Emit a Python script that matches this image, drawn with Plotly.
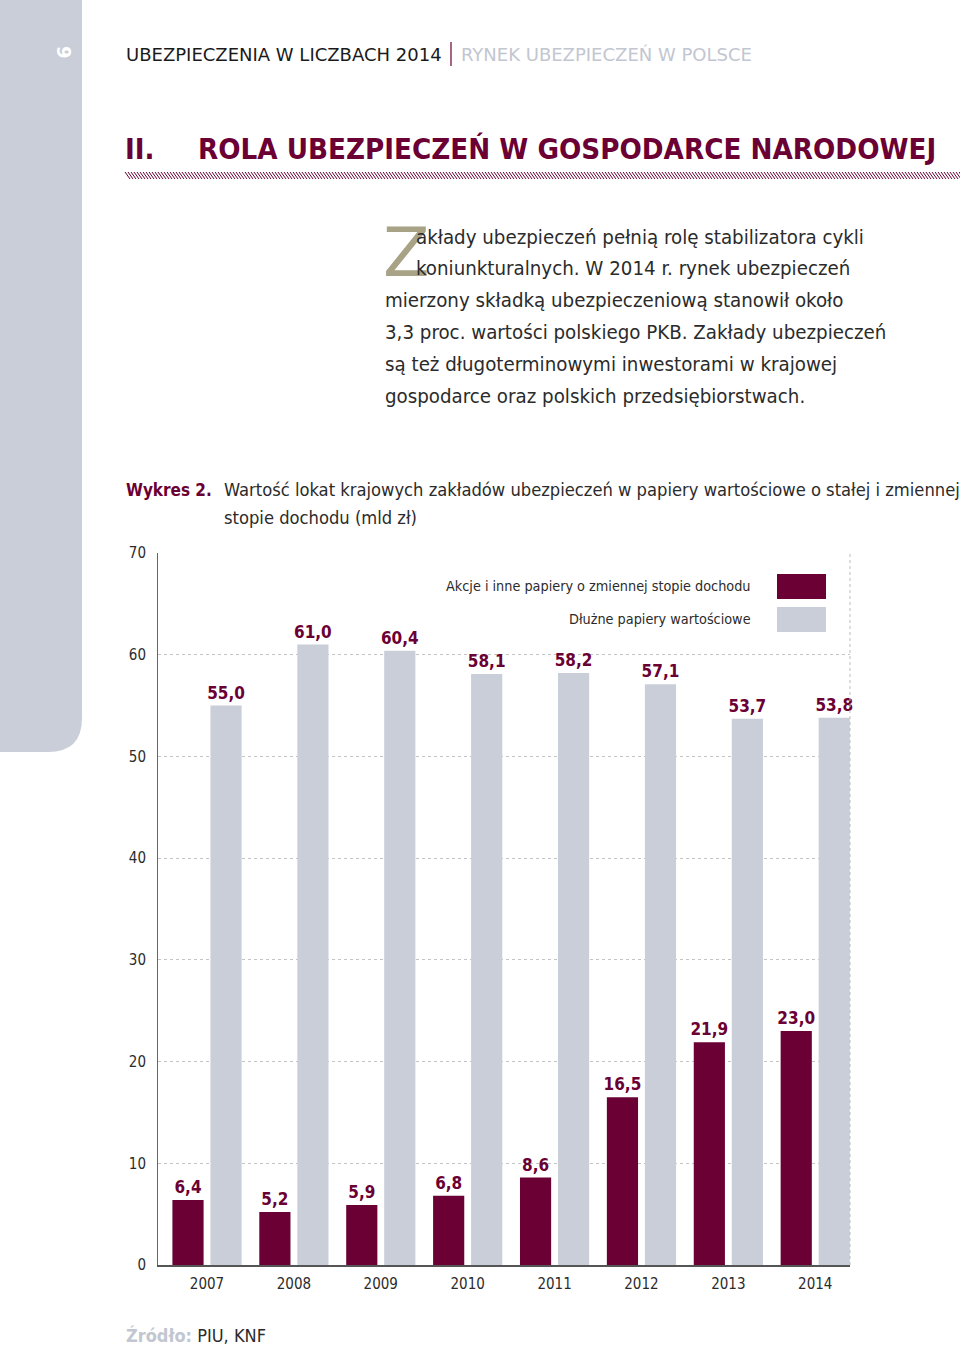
import plotly.graph_objects as go

# ----------------------------------------
# data
# ----------------------------------------
years = ["2007", "2008", "2009", "2010", "2011", "2012", "2013", "2014"]
akcje = [6.4, 5.2, 5.9, 6.8, 8.6, 16.5, 21.9, 23.0]      # zmienny dochód
dluzne = [55.0, 61.0, 60.4, 58.1, 58.2, 57.1, 53.7, 53.8]  # stały dochód
y_ticks = [0, 10, 20, 30, 40, 50, 60, 70]

MAROON = "#6a0033"
GREY_BAR = "#c9ced9"
TXT = "#2b2b2b"
FONT = "DejaVu Sans Condensed"

W, H = 960, 1348
# plot area in pixels
X0, X1, Y0, Y1 = 158, 850, 553, 1265


def px(x):
    return (x - X0) / (X1 - X0)


def py(y):
    return (Y1 - y) / (Y1 - Y0)


def fmt(v):
    return f"{v:.1f}".replace(".", ",")


def note(x, y, text, size, color=TXT, family=FONT, anchor="left", **kw):
    d = dict(x=px(x), y=py(y), xref="paper", yref="paper", xanchor=anchor,
             yanchor="middle", showarrow=False, text=text,
             font=dict(family=family, size=size, color=color))
    d.update(kw)
    return d


fig = go.Figure()
fig.add_trace(go.Bar(
    x=years, y=akcje, name="Akcje i inne papiery o zmiennej stopie dochodu",
    marker=dict(color=MAROON, line=dict(width=0)),
    text=[fmt(v) for v in akcje], textposition="outside", constraintext="none",
    textfont=dict(family=FONT, size=17, color=MAROON, weight="bold"),
    cliponaxis=False,
))
fig.add_trace(go.Bar(
    x=years, y=dluzne, name="Dłużne papiery wartościowe",
    marker=dict(color=GREY_BAR, line=dict(width=0)),
    text=[fmt(v) for v in dluzne], textposition="outside", constraintext="none",
    textfont=dict(family=FONT, size=17, color=MAROON, weight="bold"),
    cliponaxis=False,
))

shapes = []
ann = []

# sidebar with rounded corner
r = 34
sx1, sy1 = 82, 752
shapes.append(dict(
    type="path", xref="paper", yref="paper", layer="below",
    path=(f"M {px(0)},{py(0)} L {px(sx1)},{py(0)} L {px(sx1)},{py(sy1 - r)} "
          f"Q {px(sx1)},{py(sy1)} {px(sx1 - r)},{py(sy1)} L {px(0)},{py(sy1)} Z"),
    fillcolor=GREY_BAR, line=dict(width=0),
))
ann.append(note(64, 52, "<b>9</b>", 20, color="white", anchor="center", textangle=90))

# header
ann.append(note(124, 54, "UBEZPIECZENIA W LICZBACH 2014", 18, color="#1a1a1a",
                family="DejaVu Sans"))
shapes.append(dict(type="line", xref="paper", yref="paper", x0=px(451), x1=px(451),
                   y0=py(42), y1=py(66), line=dict(color=MAROON, width=1.2)))
ann.append(note(459, 54, "RYNEK UBEZPIECZEŃ W POLSCE", 18, color="#c2c6d0",
                family="DejaVu Sans"))

# section title
ann.append(note(123, 149, "<b>II.</b>", 29.2, color=MAROON))
ann.append(note(196, 149, "<b>ROLA UBEZPIECZEŃ W GOSPODARCE NARODOWEJ</b>", 29.2, color=MAROON))
hatch = []
xx = 125
while xx < 960:
    hatch.append(f"M {px(xx)},{py(172)} L {px(xx + 5)},{py(179)}")
    xx += 3
shapes.append(dict(type="path", xref="paper", yref="paper", path=" ".join(hatch),
                   line=dict(color=MAROON, width=1)))

# lead paragraph
ann.append(note(381, 252, "Z", 68, color="#a8a386",
                family="DejaVu Sans ExtraLight, DejaVu Sans"))
lines = [
    (414, 237, "akłady ubezpieczeń pełnią rolę stabilizatora cykli"),
    (414, 268, "koniunkturalnych. W 2014 r. rynek ubezpieczeń"),
    (383, 300, "mierzony składką ubezpieczeniową stanowił około"),
    (383, 332, "3,3 proc. wartości polskiego PKB. Zakłady ubezpieczeń"),
    (383, 364, "są też długoterminowymi inwestorami w krajowej"),
    (383, 396, "gospodarce oraz polskich przedsiębiorstwach."),
]
for lx, ly, t in lines:
    ann.append(note(lx, ly, t, 20.3))

# chart caption
ann.append(note(124, 490, "<b>Wykres 2.</b>", 17, color=MAROON))
ann.append(note(222, 490, "Wartość lokat krajowych zakładów ubezpieczeń w papiery "
                          "wartościowe o stałej i zmiennej", 18.2))
ann.append(note(222, 517, "stopie dochodu (mld zł)", 18.2))

# legend (drawn by hand, swatch on the right)
ann.append(note(753, 586, "Akcje i inne papiery o zmiennej stopie dochodu", 14.3, anchor="right"))
ann.append(note(753, 619, "Dłużne papiery wartościowe", 14.3, anchor="right"))
shapes.append(dict(type="rect", xref="paper", yref="paper", x0=px(777), x1=px(826),
                   y0=py(574), y1=py(599), fillcolor=MAROON, line=dict(width=0)))
shapes.append(dict(type="rect", xref="paper", yref="paper", x0=px(777), x1=px(826),
                   y0=py(607), y1=py(632), fillcolor=GREY_BAR, line=dict(width=0)))

# dotted right border of the plot
shapes.append(dict(type="line", xref="paper", yref="paper", x0=1, x1=1, y0=0, y1=1,
                   line=dict(color="#bdbdbd", width=1, dash="dot")))

# source
ann.append(note(124, 1335, "<b><span style='color:#c2c6d0'>Źródło:</span></b> PIU, KNF", 18))

fig.update_layout(
    width=W, height=H,
    margin=dict(l=X0, r=W - X1, t=Y0, b=H - Y1),
    paper_bgcolor="white", plot_bgcolor="white",
    barmode="group", bargap=0.125, bargroupgap=0.18,
    showlegend=False,
    shapes=shapes, annotations=ann,
    font=dict(family=FONT, color=TXT),
    xaxis=dict(range=[-0.564, 7.40], showgrid=False, showline=True,
               linecolor="#555555", linewidth=2, ticks="", ticklabelstandoff=4,
               tickfont=dict(family=FONT, size=15, color=TXT)),
    yaxis=dict(range=[0, 70], tickvals=y_ticks, showgrid=True, gridcolor="#c4c4c4",
               griddash="dot", gridwidth=1, showline=True, linecolor="#666666",
               linewidth=1, zeroline=False, ticks="", ticklabelstandoff=8,
               tickfont=dict(family=FONT, size=15, color=TXT)),
)

fig.write_html("out.html", config={"displayModeBar": False},
               post_script="document.body.style.margin='0';")
